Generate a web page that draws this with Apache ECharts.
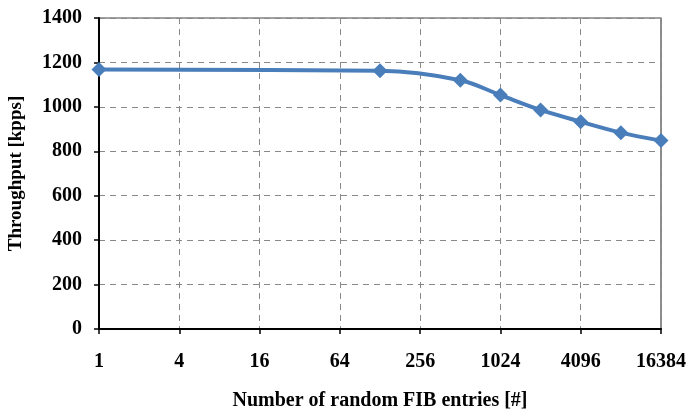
<!DOCTYPE html>
<html>
<head>
<meta charset="utf-8">
<script src="https://cdn.jsdelivr.net/npm/echarts@6/dist/echarts.min.js"></script>
<style>html,body{margin:0;padding:0;background:#fff}#c{width:693px;height:412px}</style>
</head>
<body>
<div id="c"></div>
<script>
var entries = [1, 128, 512, 1024, 2048, 4096, 8192, 16384];
var throughput = [1168, 1162, 1120, 1053, 986, 933, 884, 848];
var xTickLabels = ["1", "4", "16", "64", "256", "1024", "4096", "16384"];
var yTicks = [0, 200, 400, 600, 800, 1000, 1200, 1400];

var font = '"Liberation Serif", "Times New Roman", serif';
var chart = echarts.init(document.getElementById('c'));
chart.setOption({
  animation: false,
  grid: { left: 99, right: 32, top: 18, bottom: 83, containLabel: false, outerBoundsMode: 'none',
          show: true, borderColor: '#444', borderWidth: 1.2 },
  xAxis: {
    type: 'value', min: 0, max: 14, interval: 2,
    name: 'Number of random FIB entries [#]',
    nameLocation: 'middle', nameGap: 62,
    nameTextStyle: { fontFamily: font, fontWeight: 'bold', fontSize: 20, color: '#000' },
    axisLine: { lineStyle: { color: '#000', width: 2 } },
    axisTick: { show: true, length: 5, lineStyle: { color: '#000', width: 1.5 } },
    axisLabel: {
      margin: 23, fontFamily: font, fontWeight: 'bold', fontSize: 20, color: '#000',
      formatter: function (v) { return xTickLabels[Math.round(v / 2)]; }
    },
    splitLine: { show: true, lineStyle: { color: '#888', type: [6, 5], width: 1 } }
  },
  yAxis: {
    type: 'value', min: yTicks[0], max: yTicks[yTicks.length - 1], interval: 200,
    name: 'Throughput [kpps]',
    nameLocation: 'middle', nameGap: 73,
    nameTextStyle: { fontFamily: font, fontWeight: 'bold', fontSize: 19, color: '#000' },
    axisLine: { show: true, lineStyle: { color: '#000', width: 2 } },
    axisTick: { show: true, length: 5, lineStyle: { color: '#000', width: 1.5 } },
    axisLabel: {
      margin: 17, fontFamily: font, fontWeight: 'bold', fontSize: 20, color: '#000',
      formatter: function (v) { return String(v); }
    },
    splitLine: { show: true, lineStyle: { color: '#888', type: [6, 5], width: 1 } }
  },
  series: [{
    type: 'line',
    data: entries.map(function (n, i) { return [Math.log2(n), throughput[i]]; }),
    smooth: 0.35,
    symbol: 'diamond',
    symbolSize: 15,
    lineStyle: { color: '#4a7ebb', width: 4 },
    itemStyle: { color: '#4a7ebb' }
  }]
});
</script>
</body>
</html>
